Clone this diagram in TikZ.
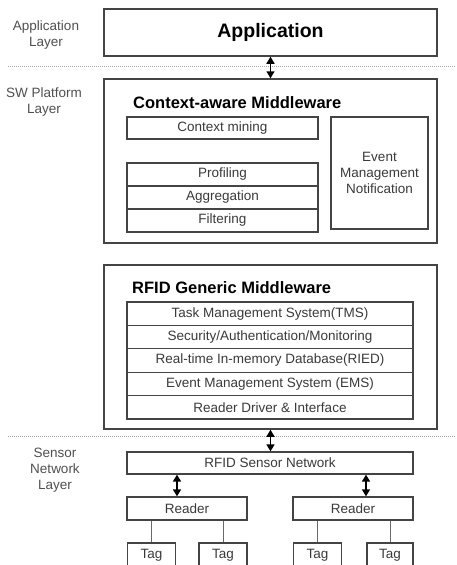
\documentclass[tikz,border=0pt]{standalone}
\usepackage{fontspec}
\setmainfont{Liberation Sans}
\usetikzlibrary{arrows.meta}
\definecolor{boxline}{HTML}{444444}
\definecolor{txt}{HTML}{3A3A3A}
\definecolor{lbl}{HTML}{505050}
\begin{document}
\begin{tikzpicture}[x=1pt,y=-1pt,
  box/.style={draw=boxline,line width=1.3pt,rectangle,inner sep=0pt,
    text=txt,font=\fontsize{13.5}{16}\selectfont,align=center},
  bigbox/.style={box,line width=1.5pt},
  title/.style={anchor=west,inner sep=0pt,font=\bfseries\fontsize{16.5}{19}\selectfont,text=black},
  layerlbl/.style={inner sep=0pt,align=center,text=lbl,font=\fontsize{13.5}{16}\selectfont},
  sep/.style={draw=gray!70,line width=1pt,dash pattern=on 1pt off 1pt},
  dbl/.style={draw=black,line width=1.5pt,{Triangle[length=7pt,width=8pt]}-{Triangle[length=7pt,width=8pt]}},
  tagline/.style={draw=boxline!80,line width=1pt}]
\clip (0,0) rectangle (456,565);
\fill[white] (0,0) rectangle (456,565);

% layer labels
\node[layerlbl] (l1) at (46,35) {Application\\Layer};
\node[layerlbl] (l2) at (44,102) {SW Platform\\Layer};
\node[layerlbl] (l3) at (55,470) {Sensor\\Network\\Layer};

% separators
\coordinate (s1a) at (8,66); \coordinate (s1b) at (456,66);
\coordinate (s2a) at (8,436); \coordinate (s2b) at (456,436);
\draw[sep] (s1a) -- (s1b);
\draw[sep] (s2a) -- (s2b);

% application
\node[bigbox,minimum width=333pt,minimum height=47pt,text=black,
  font=\bfseries\fontsize{19.5}{22}\selectfont] (app) at (270.5,32.5) {Application};

% context-aware middleware
\node[bigbox,minimum width=333pt,minimum height=164pt] (cam) at (270.5,161) {};
\node[title] (camt) at (133,103) {Context-aware Middleware};
\node[box,minimum width=191pt,minimum height=22pt] (mining) at (222.5,128) {Context mining};
\node[box,minimum width=191pt,minimum height=23pt] (prof) at (222.5,174.5) {Profiling};
\node[box,minimum width=191pt,minimum height=23pt] (aggr) at (222.5,197.5) {Aggregation};
\node[box,minimum width=191pt,minimum height=23pt] (filt) at (222.5,220.5) {Filtering};
\node[box,minimum width=97pt,minimum height=112pt] (event) at (379.5,173)
  {Event\\Management\\Notification};

% RFID generic middleware
\node[bigbox,minimum width=333pt,minimum height=164pt] (rgm) at (270.5,347) {};
\node[title] (rgmt) at (132,288) {RFID Generic Middleware};
\node[box,minimum width=286pt,minimum height=23.4pt] (tms) at (270,313.7) {Task Management System(TMS)};
\node[box,minimum width=286pt,minimum height=23.4pt] (sec) at (270,337.1) {Security/Authentication/Monitoring};
\node[box,minimum width=286pt,minimum height=23.4pt] (ried) at (270,360.5) {Real-time In-memory Database(RIED)};
\node[box,minimum width=286pt,minimum height=23.4pt] (ems) at (270,383.9) {Event Management System (EMS)};
\node[box,minimum width=286pt,minimum height=23.4pt] (rdi) at (270,407.3) {Reader Driver \& Interface};

% sensor network
\node[box,minimum width=286pt,minimum height=22pt] (rsn) at (270,463) {RFID Sensor Network};
\node[box,minimum width=120pt,minimum height=23pt] (rL) at (187,508.5) {Reader};
\node[box,minimum width=120pt,minimum height=23pt] (rR) at (353,508.5) {Reader};
\node[box,minimum width=48pt,minimum height=24pt] (t1) at (151.5,555) {Tag};
\node[box,minimum width=48pt,minimum height=24pt] (t2) at (223,555) {Tag};
\node[box,minimum width=48pt,minimum height=24pt] (t3) at (317.5,555) {Tag};
\node[box,minimum width=46pt,minimum height=24pt] (t4) at (390,555) {Tag};

% arrows
\draw[dbl] (app.south) -- (app.south |- cam.north);
\draw[dbl] (rgm.south) -- (rgm.south |- rsn.north);
\draw[dbl] ([xshift=-10pt]rL.north |- rsn.south) -- ([xshift=-10pt]rL.north);
\draw[dbl] ([xshift=13pt]rR.north |- rsn.south) -- ([xshift=13pt]rR.north);

% tag lines
\draw[tagline] (t1.north |- rL.south) -- (t1.north);
\draw[tagline] (t2.north |- rL.south) -- (t2.north);
\draw[tagline] (t3.north |- rR.south) -- (t3.north);
\draw[tagline] (t4.north |- rR.south) -- (t4.north);
\end{tikzpicture}
\end{document}
